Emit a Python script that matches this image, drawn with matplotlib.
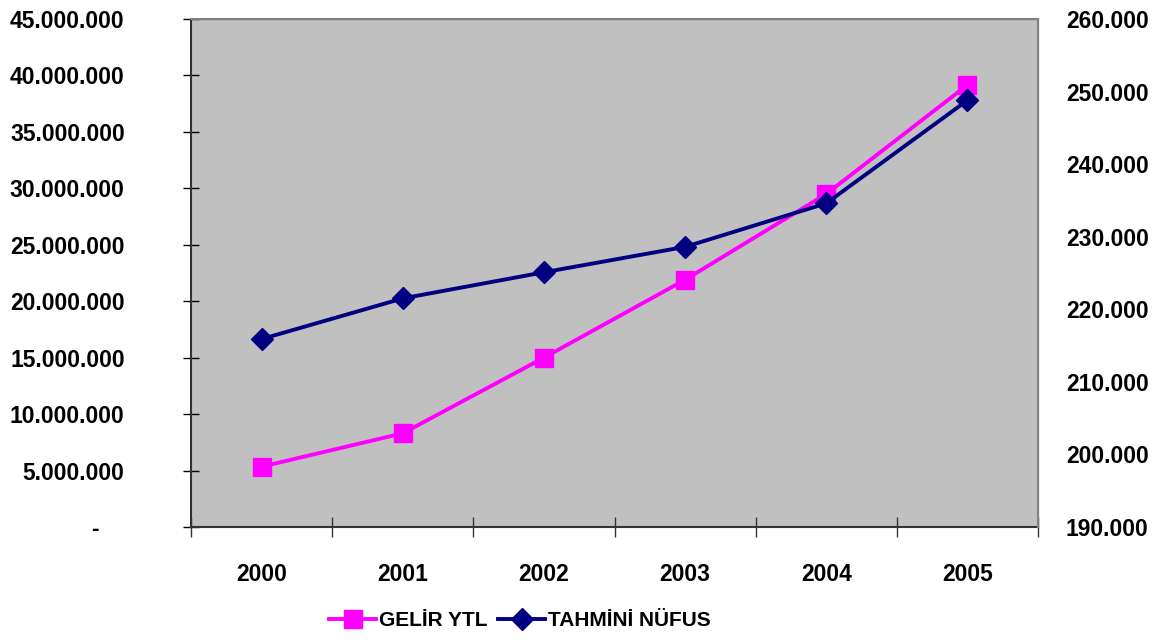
import matplotlib.pyplot as plt
from matplotlib.ticker import FuncFormatter

# data
years = ["2000", "2001", "2002", "2003", "2004", "2005"]
gelir_ytl = [5340000, 8300000, 15000000, 21900000, 29500000, 39150000]
tahmini_nufus = [215900, 221500, 225100, 228600, 234600, 248800]

plt.rcParams["font.family"] = ["Liberation Sans", "DejaVu Sans"]
plt.rcParams["font.weight"] = "bold"
FS = 16.5


def dotted(v, pos=None):
    if v == 0:
        return "-    "
    return f"{int(round(v)):,}".replace(",", ".")


fig = plt.figure(figsize=(11.58, 6.4), dpi=100)
ax = fig.add_axes([191 / 1158, 1 - 527 / 640, 847 / 1158, 508 / 640])
ax.set_facecolor("#c0c0c0")
ax2 = ax.twinx()

x = list(range(len(years)))
l1, = ax.plot(x, gelir_ytl, color="#ff00ff", lw=2.8, marker="s", ms=12.5,
              markeredgecolor="#ff00ff", label="GELİR YTL", zorder=3)
l2, = ax2.plot(x, tahmini_nufus, color="#000080", lw=2.8, marker="D", ms=11.5,
               markeredgecolor="#000080", label="TAHMİNİ NÜFUS", zorder=4)

ax.set_xlim(-0.5, len(years) - 0.5)
ax.set_ylim(0, 45000000)
ax.set_yticks(range(0, 45000001, 5000000))
ax.yaxis.set_major_formatter(FuncFormatter(dotted))
ax2.set_ylim(190000, 260000)
ax2.set_yticks(range(190000, 260001, 10000))
ax2.yaxis.set_major_formatter(FuncFormatter(dotted))

# category ticks sit between the years, labels centred on each year
ax.set_xticks([i + 0.5 for i in range(-1, len(years))], minor=False)
ax.set_xticklabels([])
ax.set_xticks(x, minor=True)
ax.set_xticklabels(years, minor=True)
ax.tick_params(axis="x", which="major", direction="inout", length=14.4,
               width=1, color="#333333")
ax.tick_params(axis="x", which="minor", length=0, pad=26, labelsize=FS)
ax.tick_params(axis="y", direction="inout", length=11.5, width=1,
               color="black", pad=42, labelsize=FS)
ax2.tick_params(axis="y", length=0, pad=20, labelsize=FS)

for s in ("left", "bottom"):
    ax.spines[s].set_color("#333333")
    ax.spines[s].set_linewidth(1.5)
for s in ("top", "right"):
    ax2.spines[s].set_color("#808080")
    ax2.spines[s].set_linewidth(1.5)
ax2.spines["left"].set_visible(False)
ax2.spines["bottom"].set_visible(False)

for lab in ax.get_xticklabels(minor=True) + ax.get_yticklabels() + ax2.get_yticklabels():
    lab.set_fontweight("bold")

fig.legend(handles=[l1, l2], loc="center", bbox_to_anchor=(520 / 1158, 1 - 621 / 640),
           ncol=2, frameon=False, handlelength=2.25,
           handletextpad=0.15, columnspacing=0.5, prop={"weight": "bold", "size": 15})

fig.savefig("out.png", dpi=100)
